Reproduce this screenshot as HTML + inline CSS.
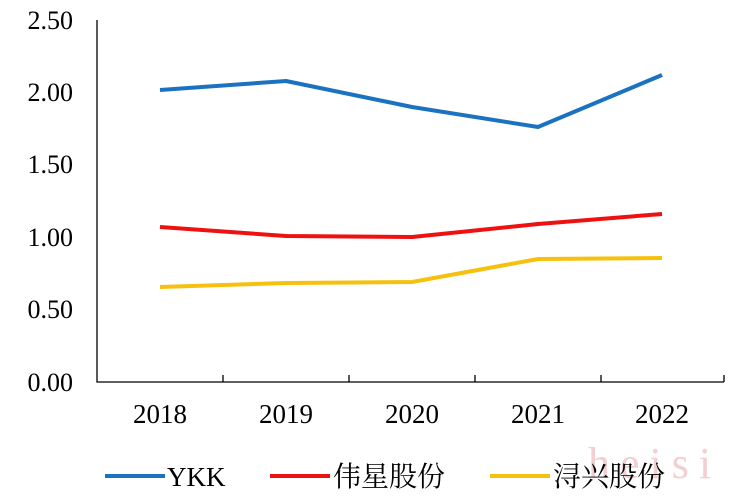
<!DOCTYPE html>
<html><head><meta charset="utf-8"><style>
body{margin:0;background:#fff}
svg text{font-family:"Liberation Serif","Noto Serif CJK SC",serif;fill:#000}
</style></head><body>
<svg width="740" height="499" viewBox="0 0 740 499" xmlns="http://www.w3.org/2000/svg">
<g font-size="26" text-anchor="end">
<text x="73" y="29">2.50</text>
<text x="73" y="101">2.00</text>
<text x="73" y="173">1.50</text>
<text x="73" y="246">1.00</text>
<text x="73" y="318">0.50</text>
<text x="73" y="391">0.00</text>
</g>
<path d="M97 20V382H724" stroke="#000" stroke-width="1.3" fill="none"/>
<path d="M223 382v-7M349 382v-7M475 382v-7M601 382v-7M724 382v-7" stroke="#000" stroke-width="1.3"/>
<g font-size="27" text-anchor="middle">
<text x="160" y="423">2018</text>
<text x="286" y="423">2019</text>
<text x="412" y="423">2020</text>
<text x="538" y="423">2021</text>
<text x="662" y="423">2022</text>
</g>
<g fill="none" stroke-width="4" stroke-linejoin="round">
<polyline stroke="#1a72c0" points="160,90 286,81 412,107 538,127 662,75"/>
<polyline stroke="#ee1111" points="160,227 286,236 412,237 538,224 662,214"/>
<polyline stroke="#f6c10e" points="160,287 286,283 412,282 538,259 662,258"/>
</g>
<text x="588" y="478" font-size="44" style="fill:#f2cfd2;letter-spacing:10px">heisi</text>
<g stroke-width="4">
<line x1="105" y1="476" x2="165" y2="476" stroke="#1a72c0"/>
<line x1="270" y1="476" x2="330" y2="476" stroke="#ee1111"/>
<line x1="490" y1="476" x2="550" y2="476" stroke="#f6c10e"/>
</g>
<g font-size="27">
<text x="167" y="486">YKK</text>
<text x="333" y="486" font-size="28">伟星股份</text>
<text x="553" y="486" font-size="28">浔兴股份</text>
</g>
</svg>
</body></html>
